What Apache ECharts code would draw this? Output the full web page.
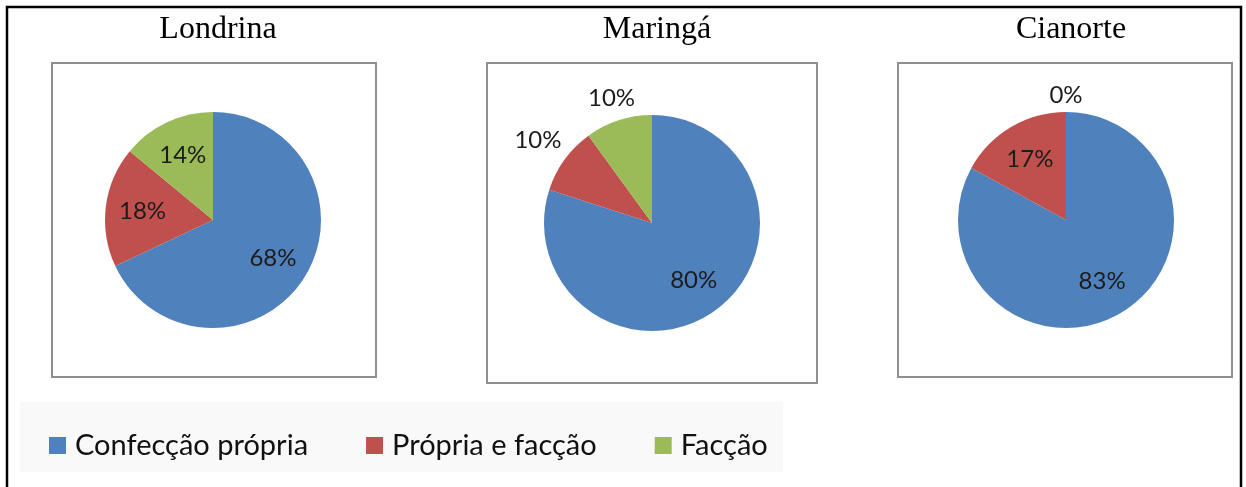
<!DOCTYPE html>
<html>
<head>
<meta charset="utf-8">
<title>Confecção - Londrina, Maringá, Cianorte</title>
<script src="https://cdn.jsdelivr.net/npm/echarts@6/dist/echarts.min.js"></script>
<style>
    html, body { margin: 0; padding: 0; background: #fff; }
    #main { width: 1246px; height: 487px; }
</style>
</head>
<body>
<div id="main"></div>
<script>
// dados (percentuais)
var categorias = ['Confecção própria', 'Própria e facção', 'Facção'];
var cidades = ['Londrina', 'Maringá', 'Cianorte'];
var londrina = [68, 18, 14];
var maringa = [80, 10, 10];
var cianorte = [83, 17, 0];
var valores = [londrina, maringa, cianorte];

// layout de cada pizza: centro, moldura e distância do rótulo por fatia
var cores = ['#4F81BD', '#C0504D', '#9BBB59'];
var raio = 108;
var centros = [[213, 220], [652, 223], [1066, 220]];
var molduras = [[52, 63, 324, 314], [487, 63, 330, 320], [898, 63, 334, 314]];
var raioRotulo = [[71, 71, 71], [71, 141, 131], [71, 71, 125]];

var chart = echarts.init(document.getElementById('main'));

var series = [];
var titles = [];
var graphics = [];

// fundo da legenda e moldura externa
graphics.push({ type: 'rect', shape: { x: 20, y: 402, width: 763, height: 70 }, style: { fill: '#f9f9f9' }, z: 0 });
graphics.push({ type: 'polyline', shape: { points: [[7, 487], [7, 7], [1241, 7], [1241, 487]] }, style: { stroke: '#000', lineWidth: 2.5, fill: null }, z: 0 });

for (var i = 0; i < cidades.length; i++) {
    var dados = [];
    for (var k = 0; k < categorias.length; k++) {
        dados.push({ name: categorias[k], value: valores[i][k] });
    }
    var m = molduras[i];
    graphics.push({ type: 'rect', shape: { x: m[0], y: m[1], width: m[2], height: m[3] }, style: { fill: '#fff', stroke: '#8f8f8f', lineWidth: 2 }, z: 1 });

    titles.push({
        text: cidades[i], left: centros[i][0], top: 9, textAlign: 'center',
        textStyle: { fontFamily: 'Liberation Serif', fontSize: 32, fontWeight: 'normal', color: '#000' }
    });

    // pizza principal
    series.push({
        type: 'pie', name: cidades[i], center: centros[i], radius: [0, raio],
        startAngle: 90, clockwise: true, avoidLabelOverlap: false, silent: true,
        label: { show: false }, labelLine: { show: false },
        itemStyle: { borderWidth: 0 },
        data: dados
    });

    // rótulos: uma série transparente por fatia, só para posicionar o texto
    for (var k = 0; k < categorias.length; k++) {
        var rr = raioRotulo[i][k] - 3;
        var dl = [];
        for (var j = 0; j < categorias.length; j++) {
            dl.push({ name: categorias[j], value: valores[i][j], label: { show: j === k } });
        }
        series.push({
            type: 'pie', center: centros[i], radius: [rr - 10, rr + 10],
            startAngle: 90, clockwise: true, avoidLabelOverlap: false, silent: true,
            legendHoverLink: false,
            itemStyle: { color: 'rgba(0,0,0,0)', borderWidth: 0 },
            labelLine: { show: false },
            label: {
                position: 'inside', formatter: '{c}%',
                fontFamily: 'Lato', fontSize: 24, color: '#1c1c1c'
            },
            emphasis: { disabled: true },
            data: dl
        });
    }
}

var option = {
    animation: false,
    color: cores,
    title: titles,
    legend: {
        data: categorias, left: 49, top: 431, orient: 'horizontal', padding: 0,
        icon: 'rect', itemWidth: 17, itemHeight: 17, itemGap: 58,
        selectedMode: false,
        textStyle: { fontFamily: 'Lato', fontSize: 29, color: '#111', padding: [0, 0, 0, 4] }
    },
    graphic: graphics,
    series: series
};
chart.setOption(option);
</script>
</body>
</html>
